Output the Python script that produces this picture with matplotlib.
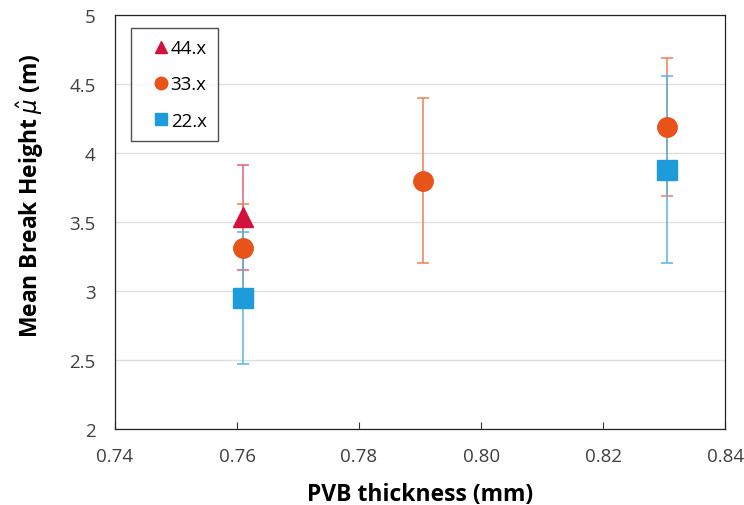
import matplotlib
matplotlib.use("Agg")
import matplotlib.pyplot as plt
from matplotlib.lines import Line2D

plt.rcParams['font.family'] = ['Open Sans', 'DejaVu Sans']
plt.rcParams['mathtext.fontset'] = 'dejavusans'

# Data
series = ["44.x", "33.x", "22.x"]
x_44 = [0.761]
y_44 = [3.535]
e_44 = [0.38]
x_33 = [0.761, 0.7905, 0.8305]
y_33 = [3.31, 3.80, 4.19]
e_33 = [0.32, 0.60, 0.50]
x_22 = [0.761, 0.8305]
y_22 = [2.95, 3.88]
e_22 = [0.48, 0.68]

xticks = [0.74, 0.76, 0.78, 0.80, 0.82, 0.84]
xticklabels = ["0.74", "0.76", "0.78", "0.80", "0.82", "0.84"]
yticks = [2, 2.5, 3, 3.5, 4, 4.5, 5]
yticklabels = ["2", "2.5", "3", "3.5", "4", "4.5", "5"]

c_red, c_red_l = "#D2123C", "#E0607A"
c_org, c_org_l = "#E8531A", "#EE8055"
c_blu, c_blu_l = "#1E9BDA", "#55B4E6"

fig = plt.figure(figsize=(7.44, 5.06), dpi=100)
ax = fig.add_axes([0.1546, 0.150, 0.82, 0.8184])

# error bars first
for xs, ys, es, cl in [(x_44, y_44, e_44, c_red_l), (x_33, y_33, e_33, c_org_l), (x_22, y_22, e_22, c_blu_l)]:
    ax.errorbar(xs, ys, yerr=es, fmt='none', ecolor=cl, elinewidth=1.1, capsize=4, capthick=1.1, zorder=3)

ax.plot(x_22, y_22, linestyle='none', marker='s', markersize=14, color=c_blu, zorder=4)
ax.plot(x_33, y_33, linestyle='none', marker='o', markersize=14, color=c_org, zorder=5)
ax.plot(x_44, y_44, linestyle='none', marker='^', markersize=15, color=c_red, zorder=6)

ax.set_xlim(0.74, 0.84)
ax.set_ylim(2, 5)
ax.set_xticks(xticks)
ax.set_xticklabels(xticklabels)
ax.set_yticks(yticks)
ax.set_yticklabels(yticklabels)
ax.tick_params(axis='x', direction='in', length=5, width=0.8, labelsize=13.5, colors='#333333', pad=13, labelcolor='#404040')
ax.tick_params(axis='y', length=0, labelsize=13.5, pad=14, labelcolor='#404040')
ax.grid(axis='y', color='#DDDDDD', linewidth=0.9)
ax.set_axisbelow(True)
for s in ax.spines.values():
    s.set_color('#222222')
    s.set_linewidth(0.9)

ax.set_xlabel("PVB thickness (mm)", fontsize=16.5, fontweight='bold', labelpad=12)
ax.set_ylabel(r"Mean Break Height $\hat{\mu}$ (m)", fontsize=16.5, fontweight='bold', labelpad=17, y=0.567)

handles = [
    Line2D([], [], linestyle='none', marker='^', markersize=9, color=c_red),
    Line2D([], [], linestyle='none', marker='o', markersize=9, color=c_org),
    Line2D([], [], linestyle='none', marker='s', markersize=8.5, color=c_blu),
]
leg = ax.legend(handles, series, loc='upper left', bbox_to_anchor=(0.026, 0.9686), fontsize=13.5,
                frameon=True, fancybox=False, edgecolor='#222222', handlelength=1.97,
                handletextpad=-0.45, labelspacing=0.97, borderpad=0.6, borderaxespad=0)
leg.get_frame().set_linewidth(1.0)

fig.savefig("out.png", dpi=100)
